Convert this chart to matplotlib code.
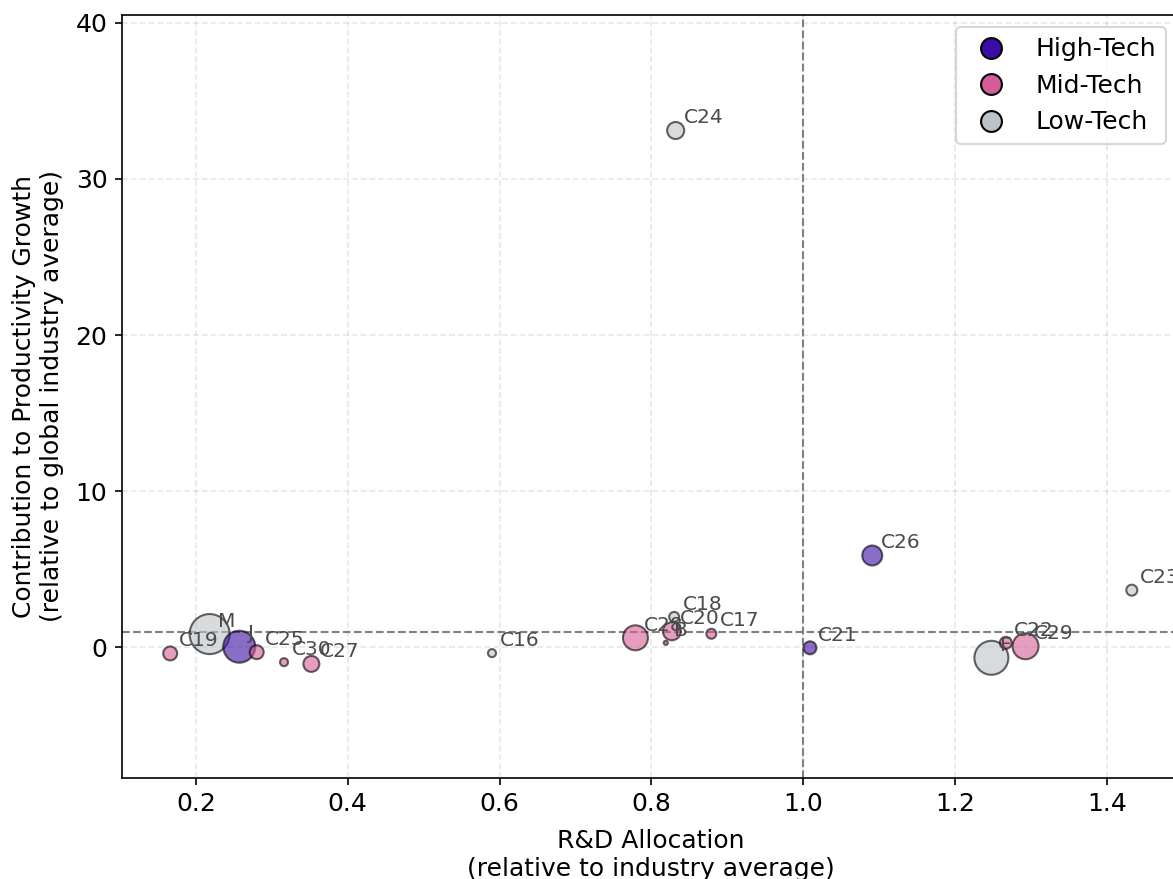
import matplotlib.pyplot as plt
from matplotlib.lines import Line2D

# sectors
labels = ['C19', 'M', 'J', 'C25', 'C30', 'C27', 'C16', 'C28', 'B', 'C18', 'C20',
          'C17', 'C24', 'C21', 'C26', 'F', 'C22', 'C29', 'C23']
rd_alloc = [0.166, 0.218, 0.257, 0.280, 0.316, 0.352, 0.590, 0.779, 0.819, 0.830, 0.827,
            0.879, 0.832, 1.009, 1.091, 1.248, 1.267, 1.293, 1.433]
contrib = [-0.38, 0.86, 0.05, -0.30, -0.94, -1.05, -0.36, 0.62, 0.30, 1.96, 1.04,
           0.88, 33.1, -0.02, 5.89, -0.66, 0.30, 0.08, 3.67]
groups = ['Mid', 'Low', 'High', 'Mid', 'Mid', 'Mid', 'Low', 'Mid', 'Mid', 'Low', 'Mid',
          'Mid', 'Low', 'High', 'High', 'Low', 'Mid', 'Mid', 'Low']
sizes = [45, 370, 236, 45, 15, 59, 15, 144, 4, 23, 75,
         23, 67, 39, 92, 266, 33, 156, 28]

group_colors = {'High': '#3a0ca3', 'Mid': '#d45c97', 'Low': '#bdc3c7'}
group_names = {'High': 'High-Tech', 'Mid': 'Mid-Tech', 'Low': 'Low-Tech'}

fig = plt.figure(figsize=(1173 / 150, 879 / 150), dpi=150)
ax = fig.add_axes([0.104, 0.115, 0.901, 0.868])

colors = [group_colors[g] for g in groups]
ax.scatter(rd_alloc, contrib, s=sizes, c=colors, alpha=0.6,
           edgecolors='black', linewidths=1, zorder=3)

for lab, x, y in zip(labels, rd_alloc, contrib):
    ax.annotate(lab, (x, y), xytext=(4, 3.5), textcoords='offset points',
                fontsize=9.7, color='#4a4a4a', zorder=4)

ax.axhline(1, color='grey', linestyle='--', linewidth=1, zorder=2)
ax.axvline(1, color='grey', linestyle='--', linewidth=1, zorder=2)

ax.set_xlim(0.1025, 1.495)
ax.set_ylim(-8.35, 40.5)
ax.grid(True, linestyle='--', alpha=0.3, zorder=0)
ax.tick_params(labelsize=12)

ax.set_xlabel('R&D Allocation\n(relative to industry average)', fontsize=12, labelpad=6)
ax.set_ylabel('Contribution to Productivity Growth\n(relative to global industry average)',
              fontsize=12, labelpad=5.5)

handles = [Line2D([0], [0], marker='o', linestyle='none', markersize=10,
                  markerfacecolor=group_colors[k], markeredgecolor='black',
                  label=group_names[k]) for k in ['High', 'Mid', 'Low']]
ax.legend(handles=handles, loc='upper right', fontsize=12)

fig.savefig('out.png', dpi=150)
